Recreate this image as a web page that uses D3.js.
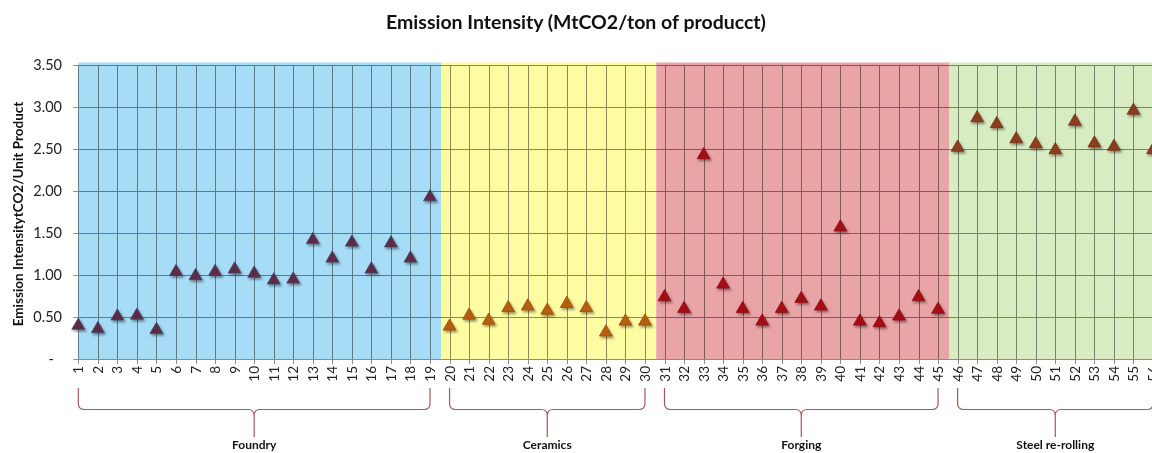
<!DOCTYPE html>
<html>
<head>
<meta charset="utf-8">
<script src="https://cdn.jsdelivr.net/npm/d3@7"></script>
<style>
  html, body { margin: 0; padding: 0; background: #fff; overflow: hidden; }
  svg { display: block; font-family: Lato, "Open Sans", sans-serif; }
</style>
</head>
<body>
<svg id="chart" width="1152" height="453"></svg>
<script>
// Emission intensity per unit, grouped by sector
const groupNames = ["Foundry", "Ceramics", "Forging", "Steel re-rolling"];
const foundry = [0.41, 0.37, 0.52, 0.53, 0.36, 1.05, 1.00, 1.05, 1.08, 1.03, 0.95, 0.96, 1.43, 1.21, 1.40, 1.08, 1.39, 1.21, 1.94];
const ceramics = [0.40, 0.53, 0.47, 0.62, 0.64, 0.59, 0.67, 0.62, 0.33, 0.46, 0.46];
const forging = [0.75, 0.61, 2.44, 0.90, 0.61, 0.46, 0.61, 0.73, 0.64, 1.58, 0.46, 0.44, 0.52, 0.75, 0.60];
const steelRerolling = [2.53, 2.88, 2.81, 2.63, 2.57, 2.50, 2.84, 2.58, 2.54, 2.97, 2.50];
const yTicks = [0, 0.5, 1.0, 1.5, 2.0, 2.5, 3.0, 3.5];
const yTickLabels = ["-", "0.50", "1.00", "1.50", "2.00", "2.50", "3.00", "3.50"];

const bandFill = ["#a7dcf6", "#fdfca2", "#e9a4a6", "#d7ecc1"];
const markerFill = ["#5e2a45", "#b55e0e", "#a50f17", "#8c3c1c"];
const markerStroke = ["#3a4566", "#9a4c08", "#8a0c12", "#74301a"];

const groupValues = [foundry, ceramics, forging, steelRerolling];

// flatten into consecutively numbered units
let counter = 0;
const groups = groupValues.map((vals, gi) => {
  const start = counter + 1;
  const pts = vals.map(v => ({ id: ++counter, value: v, group: gi }));
  return { name: groupNames[gi], start, end: counter, points: pts };
});
const points = groups.flatMap(g => g.points);
const ids = points.map(p => p.id);

const svg = d3.select("#chart");
const W = 1152;

const x = d3.scaleLinear().domain([1, ids.length]).range([78.3, 78.3 + (ids.length - 1) * 19.54]);
const y = d3.scaleLinear().domain([0, 3.5]).range([359, 65]);

const defs = svg.append("defs");
const shadow = defs.append("filter").attr("id", "shadow")
  .attr("x", "-50%").attr("y", "-50%").attr("width", "200%").attr("height", "200%");
shadow.append("feDropShadow").attr("dx", 1.5).attr("dy", 2).attr("stdDeviation", 1.3)
  .attr("flood-color", "#000").attr("flood-opacity", 0.4);

// title
svg.append("text")
  .attr("x", 576).attr("y", 29)
  .attr("text-anchor", "middle")
  .attr("font-weight", 700).attr("font-size", 19.5).attr("fill", "#111")
  .text("Emission Intensity (MtCO2/ton of producct)");

// sector background bands
const bandTop = y(3.5) - 2.5;
groups.forEach((g, i) => {
  const x0 = i === 0 ? x(g.start) : (x(g.start - 1) + x(g.start)) / 2 + 1.5;
  const x1 = i === groups.length - 1 ? W + 10 : (x(g.end) + x(g.end + 1)) / 2 + 1.5;
  svg.append("rect")
    .attr("x", x0).attr("y", bandTop)
    .attr("width", x1 - x0).attr("height", y(0) - bandTop)
    .attr("fill", bandFill[i]);
});

// gridlines tinted by the band beneath
const grid = svg.append("g").style("mix-blend-mode", "multiply");
grid.selectAll("line.h").data(yTicks).join("line")
  .attr("x1", x(1) - 5).attr("x2", W + 10)
  .attr("y1", d => Math.round(y(d)) + 0.5).attr("y2", d => Math.round(y(d)) + 0.5)
  .attr("stroke", "#8c8c8c").attr("stroke-width", 1);
grid.selectAll("line.v").data(ids).join("line")
  .attr("x1", d => Math.round(x(d)) + 0.5).attr("x2", d => Math.round(x(d)) + 0.5)
  .attr("y1", y(3.5)).attr("y2", y(0) + 5)
  .attr("stroke", "#8c8c8c").attr("stroke-width", 1);

// y axis labels (zero shown as a dash, set in from the column edge)
svg.append("g").selectAll("text").data(yTicks).join("text")
  .attr("x", d => d === 0 ? 54 : 62).attr("y", d => y(d) + 5)
  .attr("text-anchor", "end")
  .attr("font-size", 14.5).attr("fill", "#222")
  .text((d, i) => yTickLabels[i]);

// y axis title
svg.append("text")
  .attr("transform", `translate(23,${(y(0) + y(3.5)) / 2 + 2}) rotate(-90)`)
  .attr("text-anchor", "middle")
  .attr("font-weight", 700).attr("font-size", 13.5).attr("fill", "#111")
  .text("Emission IntensitytCO2/Unit Product");

// x tick labels, rotated
svg.append("g").selectAll("text").data(ids).join("text")
  .attr("transform", d => `translate(${x(d) + 5},366) rotate(-90)`)
  .attr("text-anchor", "end")
  .attr("font-size", 13.5).attr("fill", "#222")
  .text(d => d);

// markers
const tri = d3.symbol().type(d3.symbolTriangle).size(72);
svg.append("g").attr("filter", "url(#shadow)")
  .selectAll("path").data(points).join("path")
  .attr("transform", d => `translate(${x(d.id)},${y(d.value) + 1})`)
  .attr("d", tri)
  .attr("fill", d => markerFill[d.group])
  .attr("stroke", d => markerStroke[d.group])
  .attr("stroke-width", 0.8);

// braces grouping units by sector
const braceTop = 388, braceMid = 409.5, braceTip = 437, r = 6;
const braces = svg.append("g");
groups.forEach(g => {
  const xa = x(g.start), xb = x(g.end), xm = (xa + xb) / 2;
  const p = d3.path();
  p.moveTo(xa, braceTop);
  p.lineTo(xa, braceMid - r);
  p.quadraticCurveTo(xa, braceMid, xa + r, braceMid);
  p.lineTo(xm - r, braceMid);
  p.quadraticCurveTo(xm, braceMid, xm, braceMid + r);
  p.lineTo(xm, braceTip);
  p.moveTo(xm, braceTip);
  p.lineTo(xm, braceMid + r);
  p.quadraticCurveTo(xm, braceMid, xm + r, braceMid);
  p.lineTo(xb - r, braceMid);
  p.quadraticCurveTo(xb, braceMid, xb, braceMid - r);
  p.lineTo(xb, braceTop);
  braces.append("path").attr("d", p.toString())
    .attr("fill", "none").attr("stroke", "#a8585a").attr("stroke-width", 1.2);
  braces.append("text")
    .attr("x", xm).attr("y", 449)
    .attr("text-anchor", "middle")
    .attr("font-weight", 700).attr("font-size", 12).attr("fill", "#111")
    .text(g.name);
});
</script>
</body>
</html>
